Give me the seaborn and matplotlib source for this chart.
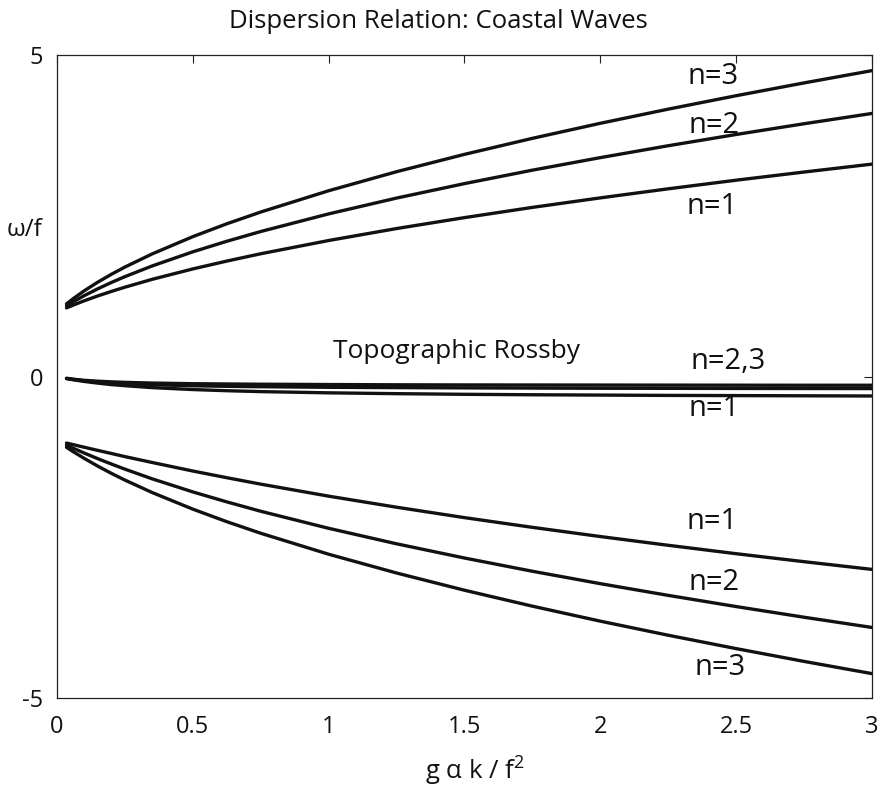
import matplotlib
matplotlib.use("Agg")
import matplotlib.pyplot as plt
import seaborn as sns
import pandas as pd

# ---- data ----
kappa = [0.035, 0.06, 0.1, 0.15, 0.2, 0.25, 0.35, 0.5, 0.625, 0.75, 1.0,
         1.25, 1.5, 1.75, 2.0, 2.25, 2.5, 2.75, 3.0]

upper_n1 = [1.067, 1.111, 1.177, 1.253, 1.323, 1.389, 1.511, 1.673, 1.795, 1.909, 2.115,
            2.301, 2.471, 2.630, 2.778, 2.919, 3.053, 3.180, 3.303]
upper_n2 = [1.099, 1.163, 1.257, 1.364, 1.462, 1.553, 1.719, 1.939, 2.103, 2.255, 2.529,
            2.775, 3.000, 3.209, 3.404, 3.589, 3.764, 3.931, 4.091]
upper_n3 = [1.130, 1.212, 1.332, 1.467, 1.589, 1.702, 1.906, 2.175, 2.375, 2.558, 2.889,
            3.185, 3.455, 3.704, 3.938, 4.158, 4.367, 4.566, 4.757]

lower_n1 = [-1.035, -1.060, -1.100, -1.149, -1.197, -1.246, -1.337, -1.470, -1.574, -1.674, -1.861,
            -2.033, -2.195, -2.346, -2.489, -2.625, -2.756, -2.880, -3.000]
lower_n2 = [-1.069, -1.116, -1.190, -1.278, -1.361, -1.441, -1.591, -1.795, -1.950, -2.096, -2.361,
            -2.602, -2.823, -3.029, -3.222, -3.404, -3.578, -3.744, -3.903]
lower_n3 = [-1.101, -1.170, -1.273, -1.394, -1.506, -1.611, -1.804, -2.063, -2.258, -2.438, -2.764,
            -3.056, -3.324, -3.572, -3.805, -4.024, -4.232, -4.431, -4.621]

rossby_n1 = [-0.032, -0.051, -0.077, -0.103, -0.126, -0.143, -0.173, -0.203, -0.221, -0.235, -0.254,
             -0.267, -0.277, -0.284, -0.289, -0.294, -0.297, -0.300, -0.303]
rossby_n2 = [-0.030, -0.046, -0.067, -0.086, -0.100, -0.112, -0.128, -0.144, -0.153, -0.159, -0.168,
             -0.173, -0.177, -0.180, -0.183, -0.184, -0.186, -0.187, -0.188]
rossby_n3 = [-0.028, -0.042, -0.059, -0.073, -0.083, -0.091, -0.102, -0.112, -0.116, -0.120, -0.125,
             -0.129, -0.131, -0.132, -0.133, -0.134, -0.135, -0.136, -0.136]

series = {
    "upper n=1": upper_n1, "upper n=2": upper_n2, "upper n=3": upper_n3,
    "lower n=1": lower_n1, "lower n=2": lower_n2, "lower n=3": lower_n3,
    "rossby n=1": rossby_n1, "rossby n=2": rossby_n2, "rossby n=3": rossby_n3,
}

labels = ["n=3", "n=2", "n=1", "n=2,3", "n=1", "n=1", "n=2", "n=3"]
label_x = [2.414, 2.42, 2.41, 2.47, 2.42, 2.41, 2.42, 2.44]
label_y = [4.66, 3.91, 2.64, 0.23, -0.49, -2.26, -3.21, -4.53]
branch_label = "Topographic Rossby"
branch_x, branch_y = 1.47, 0.39

x_ticks = [0, 0.5, 1, 1.5, 2, 2.5, 3]
x_tick_labels = ["0", "0.5", "1", "1.5", "2", "2.5", "3"]
y_ticks = [-5, 0, 5]
y_tick_labels = ["-5", "0", "5"]

# ---- styling ----
sns.set_theme(style="white")
plt.rcParams["font.family"] = ["Open Sans", "DejaVu Sans"]
plt.rcParams["mathtext.fontset"] = "custom"
plt.rcParams["mathtext.rm"] = "Open Sans"
plt.rcParams["mathtext.it"] = "Open Sans"
plt.rcParams["mathtext.default"] = "regular"

fig = plt.figure(figsize=(8.82, 7.88), dpi=100)
ax = fig.add_axes([57 / 882, 1 - 698 / 788, 815 / 882, 643 / 788])

rows = []
for name, vals in series.items():
    for k, v in zip(kappa, vals):
        rows.append({"kappa": k, "omega": v, "curve": name})
df = pd.DataFrame(rows)

sns.lineplot(data=df, x="kappa", y="omega", units="curve", estimator=None,
             sort=False, color="#111111", linewidth=2.4, ax=ax, legend=False)

ax.set_xlim(0, 3)
ax.set_ylim(-5, 5)
ax.set_xticks(x_ticks)
ax.set_xticklabels(x_tick_labels)
ax.set_yticks(y_ticks)
ax.set_yticklabels(y_tick_labels)
ax.tick_params(axis="both", direction="in", length=6, width=0.8, color="#222222",
               labelsize=17, labelcolor="#111111", top=True, right=True)
ax.tick_params(axis="x", pad=12)
ax.tick_params(axis="y", pad=10)

for sp in ax.spines.values():
    sp.set_visible(True)
    sp.set_color("#222222")
    sp.set_linewidth(0.9)

for t, lx, ly in zip(labels, label_x, label_y):
    ax.text(lx, ly, t, ha="center", va="center", fontsize=21, color="#111111")
ax.text(branch_x, branch_y, branch_label, ha="center", va="center",
        fontsize=19, color="#111111")

ax.set_xlabel("g α k / f$^{2}$", fontsize=18.5, color="#111111")
ax.xaxis.set_label_coords((475 - 57) / 815, (698 - 771) / 643)
ax.xaxis.label.set_verticalalignment("center")
ax.set_ylabel("ω/f", rotation=0, fontsize=17.5, color="#111111")
ax.yaxis.set_label_coords((24 - 57) / 815, (698 - 230) / 643)
ax.yaxis.label.set_verticalalignment("center")
ax.yaxis.label.set_horizontalalignment("center")

fig.text(438 / 882, 1 - 21 / 788, "Dispersion Relation: Coastal Waves",
         ha="center", va="center", fontsize=18.5, color="#111111")

fig.savefig("out.png", dpi=100, facecolor="white")
